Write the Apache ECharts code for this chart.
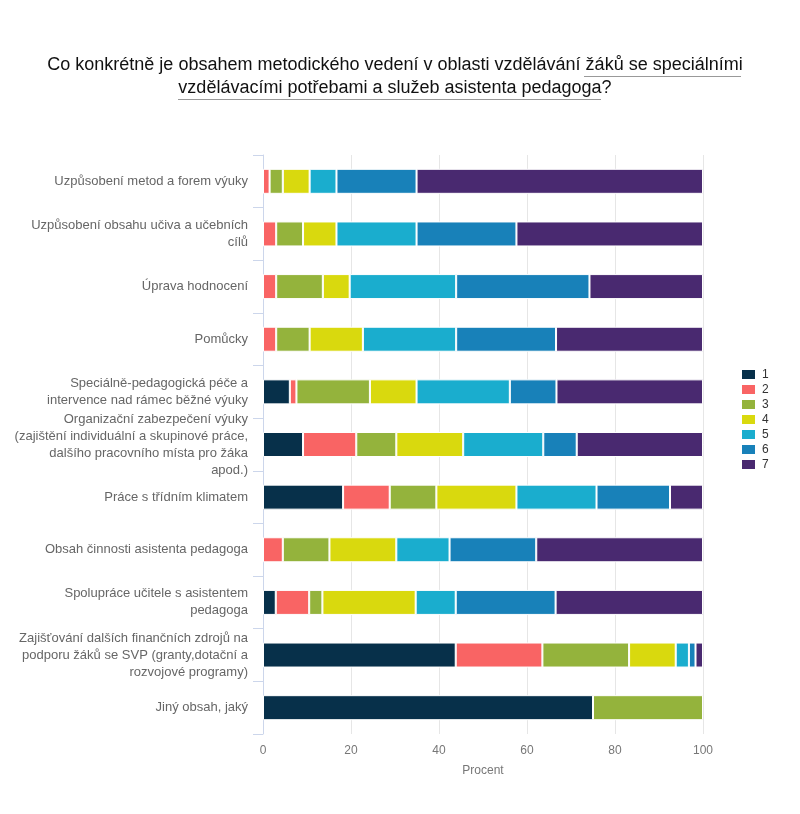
<!DOCTYPE html>
<html>
<head>
<meta charset="utf-8">
<script src="https://cdn.jsdelivr.net/npm/echarts@6/dist/echarts.min.js"></script>
<style>html,body{margin:0;padding:0;background:#fff}#main{width:800px;height:814px}</style>
</head>
<body>
<div id="main"></div>
<script>
const categories = [
  'Uzpůsobení metod a forem výuky',
  'Uzpůsobení obsahu učiva a učebních\ncílů',
  'Úprava hodnocení',
  'Pomůcky',
  'Speciálně-pedagogická péče a\nintervence nad rámec běžné výuky',
  'Organizační zabezpečení výuky\n(zajištění individuální a skupinové práce,\ndalšího pracovního místa pro žáka\napod.)',
  'Práce s třídním klimatem',
  'Obsah činnosti asistenta pedagoga',
  'Spolupráce učitele s asistentem\npedagoga',
  'Zajišťování dalších finančních zdrojů na\npodporu žáků se SVP (granty,dotační a\nrozvojové programy)',
  'Jiný obsah, jaký'
];
const seriesNames = ['1', '2', '3', '4', '5', '6', '7'];
const s1 = [null, null, null, null, 6.1, 9.1, 18.2, null, 2.9, 43.8, 75];
const s2 = [1.5, 3.0, 3.0, 3.0, 1.5, 12.1, 10.6, 4.5, 7.6, 19.7, null];
const s3 = [3.0, 6.1, 10.6, 7.6, 16.7, 9.1, 10.6, 10.6, 3.0, 19.7, 25];
const s4 = [6.1, 7.6, 6.1, 12.1, 10.6, 15.2, 18.2, 15.2, 21.2, 10.6, null];
const s5 = [6.1, 18.2, 24.2, 21.2, 21.2, 18.2, 18.2, 12.1, 9.1, 3.0, null];
const s6 = [18.2, 22.7, 30.3, 22.7, 10.6, 7.6, 16.7, 19.7, 22.7, 1.5, null];
const s7 = [65.1, 42.4, 25.8, 33.4, 33.3, 28.7, 7.5, 37.9, 33.5, 1.7, null];
const xTicks = [0, 20, 40, 60, 80, 100];
const colors = ['#07304a', '#f96464', '#94b33c', '#d9d90e', '#1aadce', '#1881b9', '#492970'];

const allSeries = [s1, s2, s3, s4, s5, s6, s7];
const chart = echarts.init(document.getElementById('main'));
const font = "'Liberation Sans', Arial, sans-serif";
chart.setOption({
  animation: false,
  color: colors,
  textStyle: { fontFamily: font },
  title: {
    text: 'Co konkrétně je obsahem metodického vedení v oblasti vzdělávání žáků se speciálními\nvzdělávacími potřebami a služeb asistenta pedagoga?',
    left: 390,
    top: 49,
    textAlign: 'center',
    textStyle: { fontSize: 18, fontWeight: 'normal', color: '#111', lineHeight: 23, fontFamily: font }
  },
  graphic: [
    { type: 'line', shape: { x1: 584, y1: 76.5, x2: 741, y2: 76.5 }, style: { stroke: '#999', lineWidth: 1 } },
    { type: 'line', shape: { x1: 178, y1: 99.5, x2: 601, y2: 99.5 }, style: { stroke: '#999', lineWidth: 1 } }
  ],
  legend: {
    orient: 'vertical',
    left: 735,
    top: 363,
    itemWidth: 15,
    itemHeight: 11,
    itemGap: 2,
    icon: 'rect',
    data: seriesNames,
    textStyle: { fontSize: 12, color: '#333', fontFamily: font, padding: [0, 0, 0, 1] }
  },
  grid: { left: 263, right: 97, top: 155, bottom: 80, containLabel: false },
  xAxis: {
    type: 'value',
    min: xTicks[0],
    max: xTicks[xTicks.length - 1],
    interval: xTicks[1] - xTicks[0],
    name: 'Procent',
    nameLocation: 'middle',
    nameGap: 31,
    nameTextStyle: { color: '#777', fontSize: 12, fontFamily: font },
    axisLine: { show: false },
    axisTick: { show: false },
    axisLabel: { color: '#777', fontSize: 12, margin: 11, fontFamily: font },
    splitLine: { lineStyle: { color: '#e6e6e6' } }
  },
  yAxis: {
    type: 'category',
    inverse: true,
    data: categories,
    axisLine: { lineStyle: { color: '#ccd6eb' } },
    axisTick: { show: true, length: 10, lineStyle: { color: '#ccd6eb' } },
    axisLabel: { color: '#666', fontSize: 13, lineHeight: 17, margin: 15, align: 'right', fontFamily: font }
  },
  series: allSeries.map((d, i) => ({
    name: seriesNames[i],
    type: 'bar',
    stack: 'total',
    barWidth: 25,
    data: d,
    itemStyle: { borderColor: '#fff', borderWidth: 1 }
  }))
});
</script>
</body>
</html>
